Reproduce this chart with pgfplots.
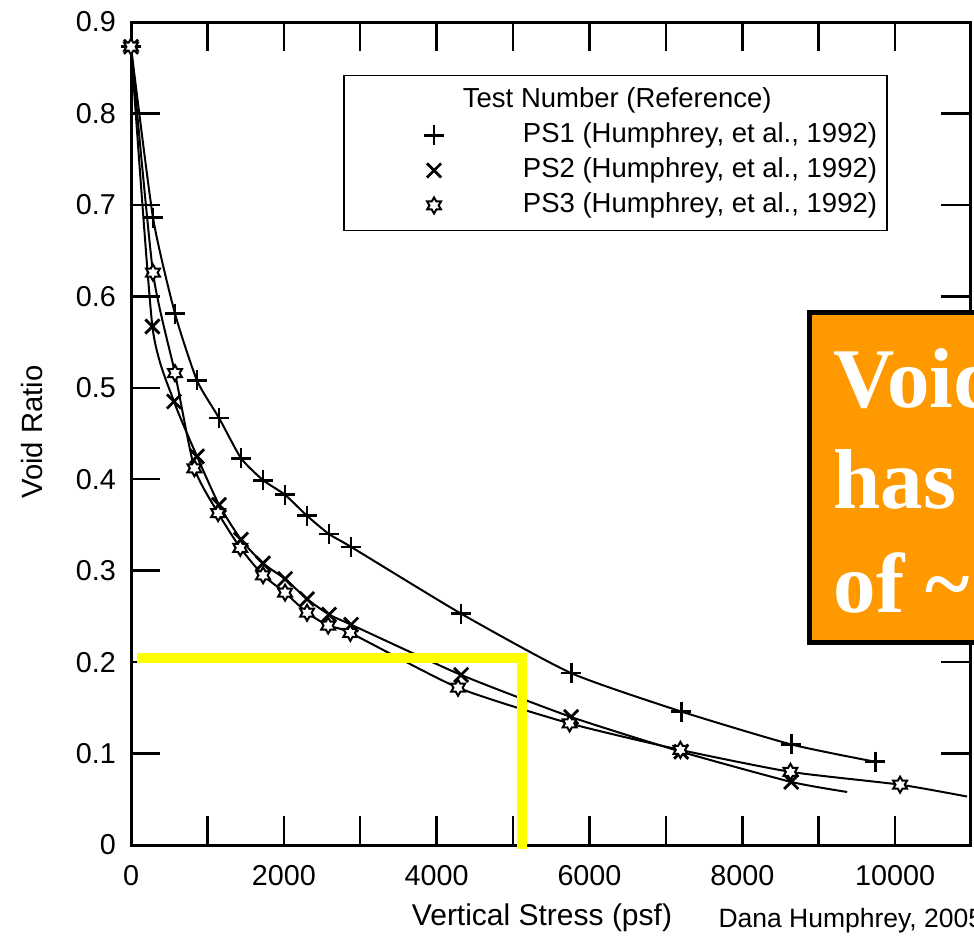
\documentclass[border=0pt]{standalone}
\usepackage{fontspec}
\setmainfont{Liberation Sans}
\newfontfamily\serifbf{Liberation Serif}
\usepackage{pgfplots}
\pgfplotsset{compat=1.18}
\definecolor{boxorange}{HTML}{FF9900}
\definecolor{hilite}{HTML}{FFFF00}

% six-pointed outline star used for PS3
\pgfdeclareplotmark{hexstar}{%
  \pgfpathmoveto{\pgfpointpolar{90}{\pgfplotmarksize}}%
  \pgfpathlineto{\pgfpointpolar{120}{0.577\pgfplotmarksize}}%
  \pgfpathlineto{\pgfpointpolar{150}{\pgfplotmarksize}}%
  \pgfpathlineto{\pgfpointpolar{180}{0.577\pgfplotmarksize}}%
  \pgfpathlineto{\pgfpointpolar{210}{\pgfplotmarksize}}%
  \pgfpathlineto{\pgfpointpolar{240}{0.577\pgfplotmarksize}}%
  \pgfpathlineto{\pgfpointpolar{270}{\pgfplotmarksize}}%
  \pgfpathlineto{\pgfpointpolar{300}{0.577\pgfplotmarksize}}%
  \pgfpathlineto{\pgfpointpolar{330}{\pgfplotmarksize}}%
  \pgfpathlineto{\pgfpointpolar{0}{0.577\pgfplotmarksize}}%
  \pgfpathlineto{\pgfpointpolar{30}{\pgfplotmarksize}}%
  \pgfpathlineto{\pgfpointpolar{60}{0.577\pgfplotmarksize}}%
  \pgfpathclose
  \pgfusepathqfillstroke}

\begin{document}
\begin{tikzpicture}
\begin{axis}[
  at={(0pt,0pt)},anchor=south west,
  scale only axis,width=335.6pt,height=329.2pt,
  xmin=0,xmax=10980,ymin=0,ymax=0.9,
  scaled x ticks=false,scaled y ticks=false,
  xtick={0,1000,2000,3000,4000,5000,6000,7000,8000,9000,10000},
  xticklabels={0,,2000,,4000,,6000,,8000,,10000},
  ytick={0,0.1,0.2,0.3,0.4,0.5,0.6,0.7,0.8,0.9},
  yticklabels={0,0.1,0.2,0.3,0.4,0.5,0.6,0.7,0.8,0.9},
  tick align=inside,major tick length=11.5pt,
  tick style={black,line width=1pt},
  axis line style={black,line width=1.2pt},
  tick label style={font=\fontsize{11.5}{13}\selectfont},
  xticklabel style={yshift=-4.5pt},
  yticklabel style={xshift=-2.5pt},
  clip=false,
  legend style={at={(axis cs:2775,0.8425)},anchor=north west,
    draw=black,line width=0.7pt,inner xsep=4pt,inner ysep=3pt,
    font=\fontsize{11}{13}\selectfont,row sep=0pt,
    nodes={inner xsep=0pt,inner ysep=1.75pt,text height=8pt,text depth=2.5pt},
    /tikz/every odd column/.append style={column sep=21.5pt}},
  legend cell align=left,
  legend image code/.code={%
    \path (0pt,0pt) (45pt,0pt);
    \draw[#1] plot coordinates {(31.5pt,0pt)};},
]
\addlegendimage{empty legend}
\addlegendentry{\hspace*{-24pt}\rule{0pt}{13pt}Test Number (Reference)}

% fitted curves
\addplot[forget plot,smooth,tension=0.35,black,line width=0.8pt] coordinates {
  (0,0.873) (288,0.686) (576,0.581) (864,0.508) (1152,0.467) (1440,0.423)
  (1728,0.399) (2016,0.383) (2304,0.360) (2592,0.340) (2880,0.326)
  (4320,0.253) (5760,0.188) (7200,0.146) (8640,0.110) (9740,0.091)};
\addplot[forget plot,smooth,tension=0.35,black,line width=0.8pt] coordinates {
  (0,0.873) (280,0.567) (563,0.485) (864,0.425) (1152,0.372) (1440,0.334)
  (1728,0.308) (2016,0.291) (2304,0.269) (2592,0.252) (2880,0.241)
  (4320,0.186) (5760,0.140) (7200,0.102) (8640,0.069) (9372,0.058)};
\addplot[forget plot,smooth,tension=0.35,black,line width=0.8pt] coordinates {
  (0,0.873) (288,0.626) (576,0.516) (830,0.412) (1140,0.363) (1430,0.325)
  (1728,0.295) (2016,0.276) (2304,0.254) (2580,0.240) (2870,0.232)
  (4280,0.172) (5740,0.133) (7190,0.104) (8630,0.080) (10065,0.066)
  (10942,0.053)};

% measured points
\addplot[only marks,mark=+,mark size=4pt,black,line width=1.1pt] coordinates {
  (0,0.873) (288,0.686) (576,0.581) (864,0.508) (1152,0.467) (1440,0.423)
  (1728,0.399) (2016,0.383) (2304,0.360) (2592,0.340) (2880,0.326)
  (4320,0.253) (5760,0.188) (7200,0.146) (8640,0.110) (9740,0.091)};
\addlegendentry{PS1 (Humphrey, et al., 1992)}
\addplot[only marks,mark=x,mark size=4pt,black,line width=1.1pt] coordinates {
  (0,0.873) (280,0.567) (563,0.485) (864,0.425) (1152,0.372) (1440,0.334)
  (1728,0.308) (2016,0.291) (2304,0.269) (2592,0.252) (2880,0.241)
  (4320,0.186) (5760,0.140) (7200,0.102) (8640,0.069)};
\addlegendentry{PS2 (Humphrey, et al., 1992)}
\addplot[only marks,mark=hexstar,mark size=3.2pt,black,fill=white,line width=0.8pt] coordinates {
  (0,0.873) (288,0.626) (576,0.516) (830,0.412) (1140,0.363) (1430,0.325)
  (1728,0.295) (2016,0.276) (2304,0.254) (2580,0.240) (2870,0.232)
  (4280,0.172) (5740,0.133) (7190,0.104) (8630,0.080) (10065,0.066)};
\addlegendentry{PS3 (Humphrey, et al., 1992)}

% highlight of the 0.2 void ratio reading
\draw[hilite,line width=4pt] (axis cs:80,0.2046) -- (axis cs:5118,0.2046)
  -- (axis cs:5118,-0.004);
\end{axis}

\begin{scope}[x=0.4pt,y=-0.4pt,shift={(-52.4pt,338pt)}]
  \node[rotate=90,font=\fontsize{11.7}{14}\selectfont] at (32,432) {Void Ratio};
  \node[anchor=base,font=\fontsize{12}{14}\selectfont,inner sep=0pt] at (542,925) {Vertical Stress (psf)};
  \node[anchor=base west,font=\fontsize{10.6}{13}\selectfont,inner sep=0pt] at (718,927) {Dana Humphrey, 2005};
  \draw[line width=2pt,fill=boxorange] (809.5,312.5) rectangle (1010,642.5);
  \begin{scope}[every node/.style={anchor=base west,inner sep=0pt,text=white,
      font=\serifbf\bfseries\fontsize{34}{40}\selectfont}]
    \node at (833,408) {Void};
    \node at (833,509) {has};
    \node at (833,612) {of \textasciitilde};
  \end{scope}
  \pgfresetboundingbox
  \useasboundingbox (0,0) rectangle (974,935);
\end{scope}
\end{tikzpicture}
\end{document}
